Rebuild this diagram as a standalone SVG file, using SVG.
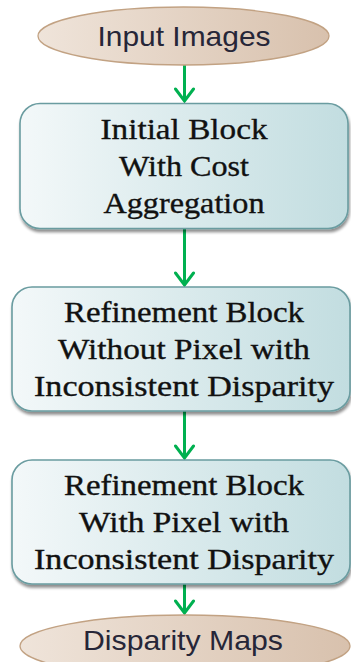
<svg xmlns="http://www.w3.org/2000/svg" width="351" height="662" viewBox="0 0 351 662">
  <style>
    .term { fill: url(#termFill); stroke: #c2a283; stroke-width: 1.3; }
    .block { fill: url(#blockFill); stroke: #6a9ca0; stroke-width: 1.6; filter: url(#shadow); }
    .sans { font-family: "Liberation Sans", Arial, sans-serif; font-size: 28px; fill: #262638; text-anchor: middle; }
    .serif { font-family: "Liberation Serif", "Times New Roman", serif; font-size: 29.5px; fill: #111; stroke: #111; stroke-width: 0.35; text-anchor: middle; }
    .link { stroke: #00b050; stroke-width: 3; fill: none; marker-end: url(#chev); }
  </style>
  <defs>
    <linearGradient id="termFill" x1="0" y1="0" x2="1" y2="0">
      <stop offset="0" stop-color="#efe4da"/>
      <stop offset="1" stop-color="#d8c1ad"/>
    </linearGradient>
    <linearGradient id="blockFill" x1="0" y1="0" x2="1" y2="0">
      <stop offset="0" stop-color="#f3f8f9"/>
      <stop offset="1" stop-color="#c2dde0"/>
    </linearGradient>
    <filter id="shadow" x="-5%" y="-10%" width="112%" height="125%">
      <feGaussianBlur in="SourceAlpha" stdDeviation="1.6"/>
      <feOffset dx="1" dy="3" result="b"/>
      <feComponentTransfer><feFuncA type="linear" slope="0.45"/></feComponentTransfer>
      <feMerge><feMergeNode/><feMergeNode in="SourceGraphic"/></feMerge>
    </filter>
    <!-- open chevron head, drawn pointing along +x -->
    <marker id="chev" viewBox="0 0 16 22" refX="14" refY="11" markerWidth="16" markerHeight="22" markerUnits="userSpaceOnUse" orient="auto">
      <path d="M2,2 L14,11 L2,20" fill="none" stroke="#00b050" stroke-width="3" stroke-linecap="round"/>
    </marker>
  </defs>

  <!-- connectors -->
  <g id="connectors">
    <line class="link" x1="184.5" y1="65" x2="184.5" y2="101"/>
    <line class="link" x1="184.5" y1="229" x2="184.5" y2="285"/>
    <line class="link" x1="184.5" y1="411" x2="184.5" y2="458"/>
    <line class="link" x1="184.5" y1="584" x2="184.5" y2="613"/>
  </g>

  <g id="input-images">
    <ellipse class="term" cx="183.5" cy="36" rx="145.5" ry="29"/>
    <text class="sans" x="184" y="46" textLength="173" lengthAdjust="spacingAndGlyphs">Input Images</text>
  </g>

  <g id="initial-block">
    <rect class="block" x="20" y="103.5" width="328" height="125" rx="20"/>
    <text class="serif" x="184" y="139" textLength="167" lengthAdjust="spacingAndGlyphs">Initial Block</text>
    <text class="serif" x="184" y="176" textLength="130" lengthAdjust="spacingAndGlyphs">With Cost</text>
    <text class="serif" x="184" y="213" textLength="161" lengthAdjust="spacingAndGlyphs">Aggregation</text>
  </g>

  <g id="refine-without">
    <rect class="block" x="12" y="287" width="338" height="124" rx="20"/>
    <text class="serif" x="184" y="322" textLength="240" lengthAdjust="spacingAndGlyphs">Refinement Block</text>
    <text class="serif" x="184" y="359" textLength="252" lengthAdjust="spacingAndGlyphs">Without Pixel with</text>
    <text class="serif" x="184" y="396" textLength="300" lengthAdjust="spacingAndGlyphs">Inconsistent Disparity</text>
  </g>

  <g id="refine-with">
    <rect class="block" x="12" y="460" width="338" height="124" rx="20"/>
    <text class="serif" x="184" y="495" textLength="240" lengthAdjust="spacingAndGlyphs">Refinement Block</text>
    <text class="serif" x="184" y="532" textLength="210" lengthAdjust="spacingAndGlyphs">With Pixel with</text>
    <text class="serif" x="184" y="569" textLength="300" lengthAdjust="spacingAndGlyphs">Inconsistent Disparity</text>
  </g>

  <g id="disparity-maps">
    <ellipse class="term" cx="185" cy="646" rx="165" ry="31"/>
    <text class="sans" x="183" y="650" textLength="200" lengthAdjust="spacingAndGlyphs">Disparity Maps</text>
  </g>
</svg>
